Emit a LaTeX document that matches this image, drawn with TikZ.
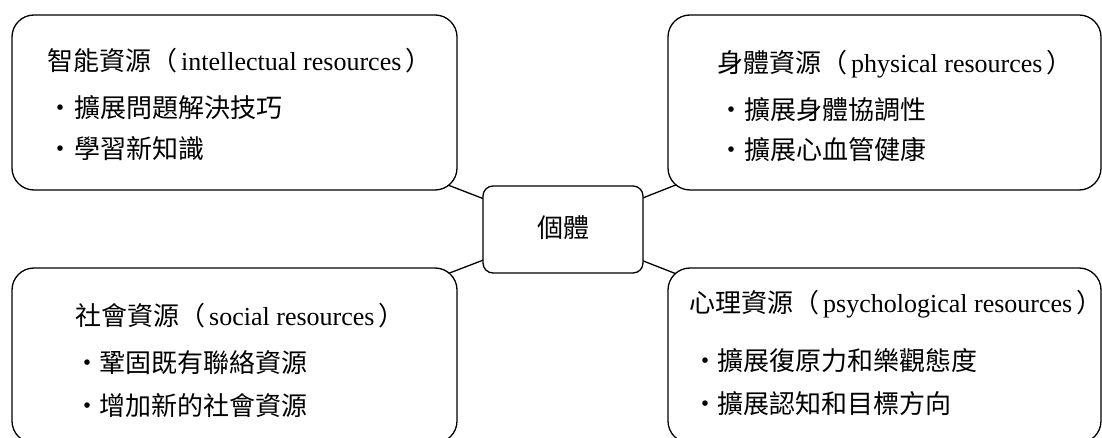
\documentclass[tikz,border=0pt]{standalone}
\usepackage{fontspec}
\setmainfont{Liberation Serif}
\newfontfamily\cjk{Noto Sans CJK TC}
\usetikzlibrary{backgrounds}
\newcommand{\lp}{{\cjk （}\hspace{4pt}}
\newcommand{\rp}{\hspace{4pt}{\cjk ）}}
\begin{document}
\begin{tikzpicture}[x=1pt,y=-1pt,
  box/.style={draw, line width=1.3pt, rounded corners=22pt, fill=white, inner sep=0pt, minimum width=445pt, minimum height=175pt},
  hub/.style={draw, line width=1.3pt, rounded corners=10pt, fill=white, inner sep=0pt, minimum width=160pt, minimum height=87pt},
  link/.style={line width=1.3pt},
  txt/.style={anchor=base west, inner sep=0pt, font=\fontsize{26}{30}\selectfont},
  item/.style={anchor=base west, inner sep=0pt, font=\cjk\fontsize{26}{30}\selectfont},
  dot/.style={anchor=base, inner sep=0pt, font=\cjk\fontsize{26}{30}\selectfont}]
\useasboundingbox (0,0) rectangle (1102,438);
\clip (0,0) rectangle (1102,438);
% boxes
\node[box] (tl) at (234.5,102.5) {};
\node[box, minimum width=433pt] (tr) at (884.5,102.5) {};
\node[box] (bl) at (234.5,355.5) {};
\node[box, minimum width=433pt] (br) at (884.5,355.5) {};
\node[hub] (hub) at (563,229.5) {};
\node[anchor=base, inner sep=0pt, font=\cjk\fontsize{26}{30}\selectfont] (hubt) at (563,238) {個體};
% connectors
\begin{pgfonlayer}{background}
\draw[link] (tl.center) -- (hub.center);
\draw[link] (tr.center) -- (hub.center);
\draw[link] (bl.center) -- (hub.center);
\draw[link] (br.center) -- (hub.center);
\end{pgfonlayer}
% top left
\node[txt] (tlt) at (47,71) {{\cjk 智能資源}\lp intellectual resources\rp};
\node[dot] (tld1) at (60,118) {・};
\node[item] (tli1) at (74,118) {擴展問題解決技巧};
\node[dot] (tld2) at (60,159) {・};
\node[item] (tli2) at (74,159) {學習新知識};
% top right
\node[txt] (trt) at (717,73) {{\cjk 身體資源}\lp physical resources\rp};
\node[dot] (trd1) at (731,120) {・};
\node[item] (tri1) at (744,120) {擴展身體協調性};
\node[dot] (trd2) at (731,160) {・};
\node[item] (tri2) at (744,160) {擴展心血管健康};
% bottom left
\node[txt] (blt) at (75,325) {{\cjk 社會資源}\lp social resources\rp};
\node[dot] (bld1) at (87,372) {・};
\node[item] (bli1) at (99,372) {鞏固既有聯絡資源};
\node[dot] (bld2) at (87,415) {・};
\node[item] (bli2) at (99,415) {增加新的社會資源};
% bottom right
\node[txt] (brt) at (689,312) {{\cjk 心理資源}\lp psychological resources\rp};
\node[dot] (brd1) at (705,370) {・};
\node[item] (bri1) at (717,370) {擴展復原力和樂觀態度};
\node[dot] (brd2) at (705,413) {・};
\node[item] (bri2) at (717,413) {擴展認知和目標方向};
\end{tikzpicture}
\end{document}
